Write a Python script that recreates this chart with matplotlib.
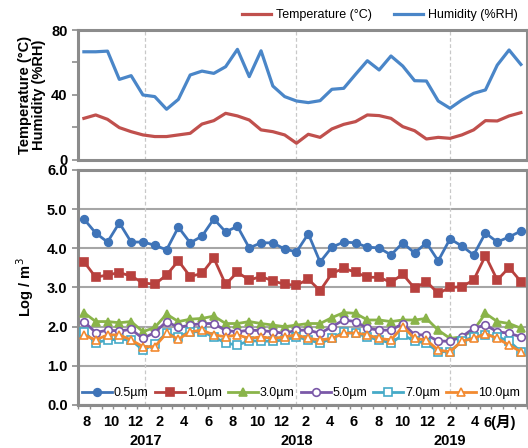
import numpy as np
import matplotlib
matplotlib.use('Agg')
import matplotlib.pyplot as plt

plt.rcParams['font.family'] = ['Liberation Sans', 'Noto Sans CJK JP', 'DejaVu Sans']

# Sampling every 4 weeks, Aug 2016 - Jun 2019 (38 samples)
temperature = [25.6, 27.7, 25.0, 19.9, 17.4, 15.4, 14.4, 14.4, 15.4, 16.4, 22.1, 24.2, 28.7,
               27.1, 24.6, 18.5, 17.4, 15.4, 10.3, 15.8, 13.9, 19.1, 21.9, 23.6, 27.7, 27.3,
               25.6, 20.5, 18.0, 12.9, 13.9, 13.3, 15.4, 18.5, 24.2, 24.0, 27.1, 29.1]
humidity = [66.6, 66.6, 67.0, 49.6, 51.9, 40.0, 39.0, 31.2, 37.3, 52.3, 54.7, 53.3, 57.4,
            68.1, 51.3, 67.2, 45.5, 39.0, 36.3, 35.3, 36.5, 43.5, 44.1, 52.7, 61.1, 55.4,
            64.0, 57.8, 48.8, 48.6, 36.3, 31.8, 36.9, 41.0, 43.1, 58.4, 67.7, 58.8]

pm05 = [4.75, 4.39, 4.16, 4.65, 4.16, 4.16, 4.08, 3.96, 4.54, 4.14, 4.31, 4.75, 4.42,
        4.56, 4.01, 4.14, 4.14, 3.98, 3.91, 4.37, 3.65, 4.03, 4.16, 4.14, 4.03, 4.01,
        3.83, 4.14, 3.88, 4.14, 3.68, 4.24, 4.06, 3.83, 4.39, 4.16, 4.29, 4.44]
pm10 = [3.66, 3.26, 3.32, 3.38, 3.29, 3.12, 3.08, 3.32, 3.68, 3.28, 3.36, 3.75, 3.08,
        3.39, 3.19, 3.28, 3.17, 3.08, 3.06, 3.21, 2.92, 3.36, 3.49, 3.39, 3.26, 3.26,
        3.13, 3.34, 2.98, 3.15, 2.85, 3.00, 3.02, 3.19, 3.81, 3.19, 3.51, 3.15]
pm30 = [2.36, 2.13, 2.13, 2.10, 2.13, 1.87, 1.98, 2.32, 2.13, 2.19, 2.21, 2.27, 2.08,
        2.08, 2.13, 2.08, 2.04, 2.00, 2.04, 2.08, 2.08, 2.23, 2.36, 2.34, 2.17, 2.17,
        2.13, 2.17, 2.17, 2.21, 1.91, 1.70, 1.74, 1.91, 2.34, 2.13, 2.08, 1.96]
pm50 = [2.13, 1.85, 1.91, 1.89, 1.93, 1.70, 1.85, 2.13, 1.98, 2.04, 2.08, 2.08, 1.90,
        1.87, 1.91, 1.90, 1.87, 1.83, 1.91, 1.91, 1.83, 2.00, 2.17, 2.13, 1.96, 1.91,
        1.91, 2.08, 1.79, 1.79, 1.63, 1.63, 1.74, 1.96, 2.04, 1.87, 1.83, 1.74]
pm70 = [1.87, 1.59, 1.66, 1.68, 1.66, 1.40, 1.56, 1.83, 1.74, 1.87, 1.87, 1.74, 1.58,
        1.53, 1.64, 1.63, 1.63, 1.66, 1.74, 1.66, 1.58, 1.70, 1.87, 1.83, 1.74, 1.66,
        1.58, 1.79, 1.63, 1.58, 1.36, 1.36, 1.63, 1.74, 1.79, 1.74, 1.63, 1.36]
pm100 = [1.79, 1.66, 1.79, 1.79, 1.66, 1.49, 1.49, 1.83, 1.68, 1.87, 1.91, 1.79, 1.74,
         1.79, 1.70, 1.74, 1.70, 1.74, 1.79, 1.70, 1.66, 1.70, 1.83, 1.84, 1.79, 1.70,
         1.66, 2.00, 1.70, 1.66, 1.40, 1.36, 1.63, 1.70, 1.82, 1.70, 1.53, 1.36]

month_labels = ['8', '10', '12', '2', '4', '6', '8', '10', '12', '2', '4', '6',
                '8', '10', '12', '2', '4', '6(月)']
years = ['2017', '2018', '2019']
year_idx = [5.2, 18.0, 31.0]   # sample position of each January

x = np.arange(len(pm05))
frame_col = '#8c8c8c'

fig = plt.figure(figsize=(5.28, 4.48), dpi=100)
ax1 = fig.add_axes([0.1477, 0.643, 0.850, 0.290])
ax2 = fig.add_axes([0.1477, 0.096, 0.850, 0.5246], sharex=ax1)

for ax in (ax1, ax2):
    for s in ax.spines.values():
        s.set_color(frame_col)
        s.set_linewidth(2.2)
    for yi in year_idx:
        ax.axvline(yi, color='#c8c8c8', lw=0.9, ls=(0, (3, 2)), zorder=1)
    ax.tick_params(axis='y', colors=frame_col, labelcolor='black', width=1.2, length=4,
                   labelsize=10.5)

# --- top panel
t_line, = ax1.plot(x, temperature, color='#c0504d', lw=2.3, label='Temperature (°C)')
h_line, = ax1.plot(x, humidity, color='#4a86c8', lw=2.3, label='Humidity (%RH)')
ax1.set_ylim(0, 80)
ax1.set_yticks([0, 40, 80])
ax1.set_yticks([20, 60], minor=True)
ax1.tick_params(axis='y', which='minor', colors=frame_col, width=1.2, length=4)
for lab in ax1.get_yticklabels():
    lab.set_fontweight('bold')
ax1.set_ylabel('Temperature (°C)\nHumidity (%RH)', fontsize=10.5, fontweight='bold',
               labelpad=4, linespacing=1.0)
ax1.tick_params(axis='x', which='both', bottom=False, labelbottom=False)
fig.legend(handles=[t_line, h_line], loc='center', bbox_to_anchor=(0.72, 0.966), ncol=2,
           frameon=False, fontsize=9, handlelength=2.3, columnspacing=1.8,
           handletextpad=0.4)

# --- bottom panel
series = [
    (pm05, '0.5µm', '#3f74b8', 'o', '#3f74b8'),
    (pm10, '1.0µm', '#b8413e', 's', '#b8413e'),
    (pm30, '3.0µm', '#8ab44a', '^', '#8ab44a'),
    (pm50, '5.0µm', '#7a58a8', 'o', 'white'),
    (pm70, '7.0µm', '#45aac8', 's', 'white'),
    (pm100, '10.0µm', '#f28a30', '^', 'white'),
]
for vals, lab, col, mk, fc in series:
    ax2.plot(x, vals, color=col, lw=2.0, marker=mk, ms=5.5, mfc=fc, mec=col, mew=1.2,
             label=lab, zorder=3)

ax2.set_ylim(0, 6)
ax2.set_yticks(np.arange(0, 6.1, 1.0))
ax2.set_yticklabels(['%.1f' % v for v in np.arange(0, 6.1, 1.0)], fontweight='bold')
ax2.grid(axis='y', color='#a6a6a6', lw=1.5)
ax2.set_axisbelow(True)
ax2.set_ylabel('Log / m$^3$', fontsize=10.5, fontweight='bold', labelpad=8)
ax2.set_xlim(-0.3, 37.45)

ax2.set_xticks(np.linspace(0.25, 35.2, len(month_labels)))
ax2.set_xticklabels(month_labels, fontweight='bold', fontsize=10.5)
ax2.set_xticks(np.arange(-0.5, 38, 1), minor=True)
ax2.tick_params(axis='x', which='major', length=0, pad=7)
ax2.tick_params(axis='x', which='minor', length=3, color=frame_col, width=1)

for yi, yr in zip(year_idx, years):
    ax2.text(yi, -0.155, yr, transform=ax2.get_xaxis_transform(), ha='center', va='center',
             fontsize=10.5, fontweight='bold')

ax2.legend(loc='center', bbox_to_anchor=(0.497, 0.05), ncol=6, frameon=False, fontsize=9,
           handlelength=2.4, columnspacing=0.5, handletextpad=0.15, borderaxespad=0)

fig.savefig('out.png', dpi=100)
